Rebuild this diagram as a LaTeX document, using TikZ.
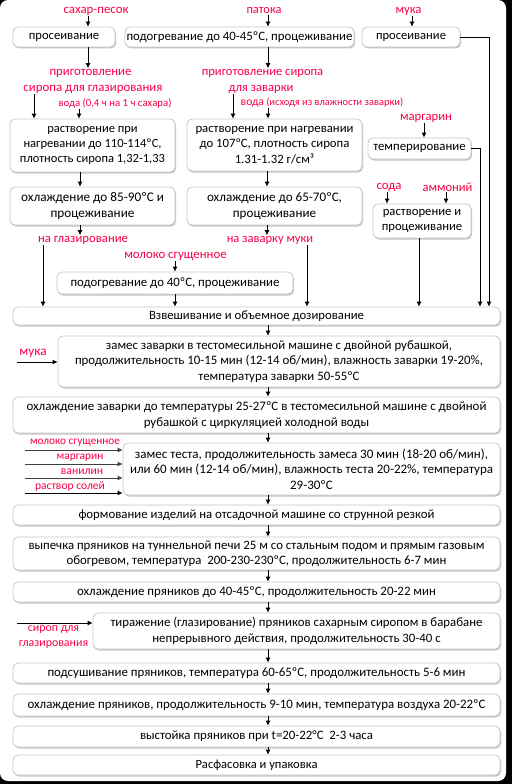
\documentclass[tikz,border=0pt]{standalone}
\usepackage{fontspec}
\setmainfont{Carlito}
\usetikzlibrary{shadows,arrows.meta,calc}
\definecolor{labc}{RGB}{250,0,70}
\definecolor{bord}{RGB}{200,200,200}
% set font size so that #2 is #1 pt wide
\newcommand\ff[2]{\setbox0=\hbox{\fontsize{10}{12}\selectfont #2}%
  \pgfmathsetmacro\wdz{\the\wd0}\pgfmathsetmacro\fsz{10*#1/\wdz}%
  \pgfmathsetmacro\fbs{1.2*\fsz}\fontsize{\fsz}{\fbs}\selectfont}
\newcommand\fl[2]{{\ff{#1}{#2}#2}}
\begin{document}
\begin{tikzpicture}[x=1pt,y=-1pt,
  box/.style={draw=bord, line width=0.8pt, fill=white, rounded corners=5pt, align=center, inner sep=0pt,
    drop shadow={shadow xshift=1pt, shadow yshift=-1.5pt, fill=black!45, opacity=0.5}},
  lab/.style={text=labc, inner sep=0.5pt},
  arr/.style={-{Latex[length=5pt,width=5pt]}, line width=0.8pt},
  garr/.style={arr, draw=black!75}]
\useasboundingbox (0,0) rectangle (512,784);
\fill[black] (0,0) rectangle (512,784);
\fill[white, rounded corners=8pt] (0,0) rectangle (506,781);

% boxes
\node[box, minimum width=102pt, minimum height=20pt] (B1) at (64,37) {\fl{70.5}{просеивание}};
\node[box, minimum width=229pt, minimum height=20pt] (B2) at (239.5,37) {\fl{226}{подогревание до 40-45ºC, процеживание}};
\node[box, minimum width=98pt, minimum height=20pt] (B3) at (411,37) {\fl{70}{просеивание}};
\node[box, minimum width=165pt, minimum height=53pt, font={\ff{145}{плотность сиропа 1,32-1,33}}] (B4) at (92.5,145.5) {растворение при\\нагревании до 110-114ºC,\\плотность сиропа 1,32-1,33};
\node[box, minimum width=175pt, minimum height=52pt, font={\ff{158}{растворение при нагревании}}] (B5) at (274.5,145) {растворение при нагревании\\до 107ºC, плотность сиропа\\1.31-1.32 г/см³};
\node[box, minimum width=103pt, minimum height=21pt] (B6) at (419.5,148.5) {\fl{92.5}{темперирование}};
\node[box, minimum width=165pt, minimum height=38pt, font={\ff{143}{охлаждение до 85-90ºC и}}] (B7) at (92.5,206) {охлаждение до 85-90ºC и\\процеживание};
\node[box, minimum width=175pt, minimum height=38pt, font={\ff{135}{охлаждение до 65-70ºC,}}] (B8) at (274.5,206) {охлаждение до 65-70ºC,\\процеживание};
\node[box, minimum width=98pt, minimum height=34pt, font={\ff{80.5}{процеживание}}] (B9) at (422,221) {растворение и\\процеживание};
\node[box, minimum width=236pt, minimum height=22pt] (B10) at (175,283) {\fl{209}{подогревание до 40ºC, процеживание}};
\node[box, minimum width=487pt, minimum height=18pt] (B11) at (256.5,316) {\fl{215}{Взвешивание и объемное дозирование}};
\node[box, minimum width=442pt, minimum height=51pt, font={\ff{408}{продолжительность 10-15 мин (12-14 об/мин), влажность заварки 19-20\%,}}] (B12) at (279,361.5) {замес заварки в тестомесильной машине с двойной рубашкой,\\продолжительность 10-15 мин (12-14 об/мин), влажность заварки 19-20\%,\\температура заварки 50-55ºC};
\node[box, minimum width=487pt, minimum height=36pt, font={\ff{460}{охлаждение заварки до температуры 25-27ºC в тестомесильной машине с двойной}}] (B13) at (256.5,415) {охлаждение заварки до температуры 25-27ºC в тестомесильной машине с двойной\\рубашкой с циркуляцией холодной воды};
\node[box, minimum width=377pt, minimum height=52pt, font={\ff{363}{или 60 мин (12-14 об/мин), влажность теста 20-22\%, температура}}] (B14) at (311.5,469) {замес теста, продолжительность замеса 30 мин (18-20 об/мин),\\или 60 мин (12-14 об/мин), влажность теста 20-22\%, температура\\29-30ºC};
\node[box, minimum width=487pt, minimum height=20pt] (B15) at (256.5,515) {\fl{356}{формование изделий на отсадочной машине со струнной резкой}};
\node[box, minimum width=487pt, minimum height=33pt, font={\ff{456}{выпечка пряников на туннельной печи 25 м со стальным подом и прямым газовым}}] (B16) at (256.5,553.5) {выпечка пряников на туннельной печи 25 м со стальным подом и прямым газовым\\обогревом, температура\ \ 200-230-230ºC, продолжительность 6-7 мин};
\node[box, minimum width=487pt, minimum height=20pt] (B17) at (256.5,592) {\fl{359}{охлаждение пряников до 40-45ºC, продолжительность 20-22 мин}};
\node[box, minimum width=407pt, minimum height=36pt, font={\ff{372}{тиражение (глазирование) пряников сахарным сиропом в барабане}}] (B18) at (296.5,631) {тиражение (глазирование) пряников сахарным сиропом в барабане\\непрерывного действия, продолжительность 30-40 с};
\node[box, minimum width=487pt, minimum height=20pt] (B19) at (256.5,673) {\fl{418}{подсушивание пряников, температура 60-65ºC, продолжительность 5-6 мин}};
\node[box, minimum width=487pt, minimum height=22pt] (B20) at (256.5,705) {\fl{458}{охлаждение пряников, продолжительность 9-10 мин, температура воздуха 20-22ºC}};
\node[box, minimum width=487pt, minimum height=21pt] (B21) at (256.5,736.5) {\fl{233}{выстойка пряников при t=20-22°C\ \ 2-3 часа}};
\node[box, minimum width=487pt, minimum height=20pt] (B22) at (256.5,765) {\fl{122}{Расфасовка и упаковка}};

% labels
\node[lab] (L1) at (96,11) {\fl{65}{сахар-песок}};
\node[lab] (L2) at (264,11) {\fl{35}{патока}};
\node[lab] (L3) at (408.5,11) {\fl{26}{мука}};
\node[lab] (L4) at (90.5,73) {\fl{82}{приготовление}};
\node[lab] (L5) at (93,89) {\fl{139}{сиропа для глазирования}};
\node[lab] (L6) at (115,103) {\fl{113}{вода (0,4 ч на 1 ч сахара)}};
\node[lab] (L7) at (262.5,73) {\fl{121.5}{приготовление сиропа}};
\node[lab] (L8) at (261,89) {\fl{65}{для заварки}};
\node[lab] (L9) at (322,103) {\fl{23.3}{вода} \fl{137}{(исходя из влажности заварки)}};
\node[lab] (L10) at (426,118) {\fl{52}{маргарин}};
\node[lab] (L11) at (389,187) {\fl{25}{сода}};
\node[lab] (L12) at (447.5,187) {\fl{50}{аммоний}};
\node[lab] (L13) at (83,240) {\fl{90}{на глазирование}};
\node[lab] (L14) at (270,240) {\fl{86.5}{на заварку муки}};
\node[lab] (L15) at (175.5,256) {\fl{102.5}{молоко сгущенное}};
\node[lab] (L16) at (33,353) {\fl{27.3}{мука}};
\node[lab] (L17) at (75,443) {\fl{90}{молоко сгущенное}};
\node[lab] (L18) at (80,458) {\fl{46.7}{маргарин}};
\node[lab] (L19) at (82,472) {\fl{42.3}{ванилин}};
\node[lab] (L20) at (70,487) {\fl{70}{раствор солей}};
\node[lab, align=center, font={\ff{69.3}{глазирования}}] (L21) at (53.5,637) {сироп для\\глазирования};

% free ends
\coordinate (M0) at (17,362);
\coordinate (I1) at (25,450);
\coordinate (I2) at (25,464);
\coordinate (I3) at (25,478);
\coordinate (I4) at (25,493);
\coordinate (S0) at (17,623);

% connectors
\draw[arr] (88,0 |- L1.south) -- (88,0 |- B1.north);
\draw[arr] (268,0 |- L2.south) -- (268,0 |- B2.north);
\draw[arr] (412,0 |- L3.south) -- (412,0 |- B3.north);
\draw[arr] (88,0 |- B1.south) -- (88,0 |- L4.north);
\draw[arr] (268,0 |- B2.south) -- (268,0 |- L7.north);
\draw[arr] (34,0 |- L5.south) -- (34,0 |- B4.north);
\draw[arr] (79,0 |- L6.south) -- (79,0 |- B4.north);
\draw[arr] (233,0 |- L8.south) -- (233,0 |- B5.north);
\draw[arr] (268,0 |- L9.south) -- (268,0 |- B5.north);
\draw[arr] (B3.east) -- (489,0 |- B3.east) -- (489,0 |- B11.north);
\draw[arr] (424,0 |- L10.south) -- (424,0 |- B6.north);
\draw[arr] (B6.east) -- (480,0 |- B6.east) -- (480,0 |- B11.north);
\draw[arr] (80,0 |- B4.south) -- (80,0 |- B7.north);
\draw[arr] (267,0 |- B5.south) -- (267,0 |- B8.north);
\draw[arr] (387,0 |- L11.south) -- (387,0 |- B9.north);
\draw[arr] (446,0 |- L12.south) -- (446,0 |- B9.north);
\draw[arr] (80,0 |- B7.south) -- (80,0 |- L13.north);
\draw[arr] (267,0 |- B8.south) -- (267,0 |- L14.north);
\draw[arr] (43,0 |- L13.south) -- (43,0 |- B11.north);
\draw[arr] (175,0 |- L15.south) -- (175,0 |- B10.north);
\draw[arr] (B10.south) -- (175,0 |- B11.north);
\draw[arr] (307,0 |- L14.south) -- (307,0 |- B11.north);
\draw[arr] (419,0 |- B9.south) -- (419,0 |- B11.north);
\draw[arr] (268,0 |- B11.south) -- (268,0 |- B12.north);
\draw[arr] (M0) -- (M0 -| B12.west);
\draw[arr] (268,0 |- B12.south) -- (268,0 |- B13.north);
\draw[arr] (268,0 |- B13.south) -- (268,0 |- B14.north);
\draw[garr] (I1) -- (I1 -| B14.west);
\draw[garr] (I2) -- (I2 -| B14.west);
\draw[garr] (I3) -- (I3 -| B14.west);
\draw[arr] (I4) -- (I4 -| B14.west);
\draw[arr] (268,0 |- B14.south) -- (268,0 |- B15.north);
\draw[arr] (268,0 |- B15.south) -- (268,0 |- B16.north);
\draw[arr] (268,0 |- B16.south) -- (268,0 |- B17.north);
\draw[arr] (268,0 |- B17.south) -- (268,0 |- B18.north);
\draw[arr] (S0) -- (S0 -| B18.west);
\draw[arr] (268,0 |- B18.south) -- (268,0 |- B19.north);
\draw[arr] (268,0 |- B19.south) -- (268,0 |- B20.north);
\draw[arr] (268,0 |- B20.south) -- (268,0 |- B21.north);
\draw[arr] (268,0 |- B21.south) -- (268,0 |- B22.north);
\end{tikzpicture}
\end{document}
